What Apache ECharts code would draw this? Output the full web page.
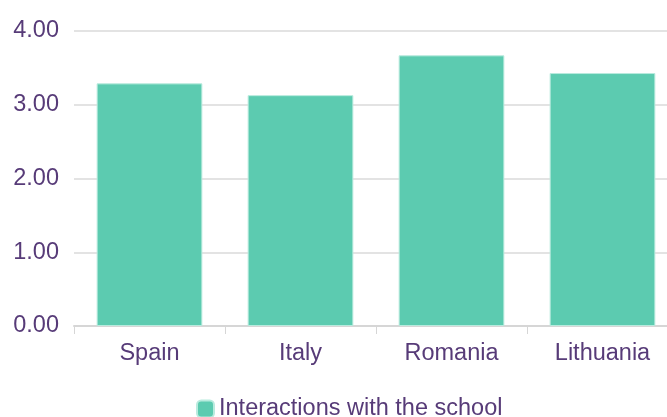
<!DOCTYPE html>
<html>
<head>
<meta charset="utf-8">
<script src="https://cdn.jsdelivr.net/npm/echarts@6/dist/echarts.min.js"></script>
<style>html,body{margin:0;padding:0;background:#fff;overflow:hidden}#c{width:678px;height:417px}</style>
</head>
<body>
<div id="c"></div>
<script>
const categories = ['Spain', 'Italy', 'Romania', 'Lithuania'];
const seriesName = 'Interactions with the school';
const values = [3.29, 3.13, 3.67, 3.43];
const yTicks = [0, 1, 2, 3, 4];

const textColor = '#573b78';
const chart = echarts.init(document.getElementById('c'));
chart.setOption({
  animation: false,
  textStyle: { fontFamily: 'Liberation Sans, Arial, sans-serif' },
  grid: { left: 74, right: 0, top: 31, bottom: 91 },
  legend: {
    data: [seriesName],
    left: 196, top: 397,
    padding: 0,
    icon: 'roundRect',
    itemWidth: 17, itemHeight: 17, itemGap: 10,
    textStyle: { color: textColor, fontSize: 23.5 }
  },
  xAxis: {
    type: 'category',
    data: categories,
    axisLine: { lineStyle: { color: '#d6d6d6', width: 2 } },
    axisTick: { show: true, length: 8, lineStyle: { color: '#d6d6d6', width: 1 } },
    axisLabel: { color: textColor, fontSize: 23.5, margin: 16 }
  },
  yAxis: {
    type: 'value',
    min: yTicks[0], max: yTicks[yTicks.length - 1], interval: 1,
    axisLine: { show: false },
    axisTick: { show: false },
    splitLine: { lineStyle: { color: '#e3e3e3', width: 2 } },
    axisLabel: {
      color: textColor, fontSize: 23.5, margin: 15,
      padding: [0, 0, 12, 0],
      formatter: v => v.toFixed(2)
    }
  },
  series: [{
    name: seriesName,
    type: 'bar',
    data: values,
    barWidth: '70%',
    itemStyle: { color: '#5ccbb0', borderColor: '#b9ebde', borderWidth: 1 }
  }]
});
</script>
</body>
</html>
